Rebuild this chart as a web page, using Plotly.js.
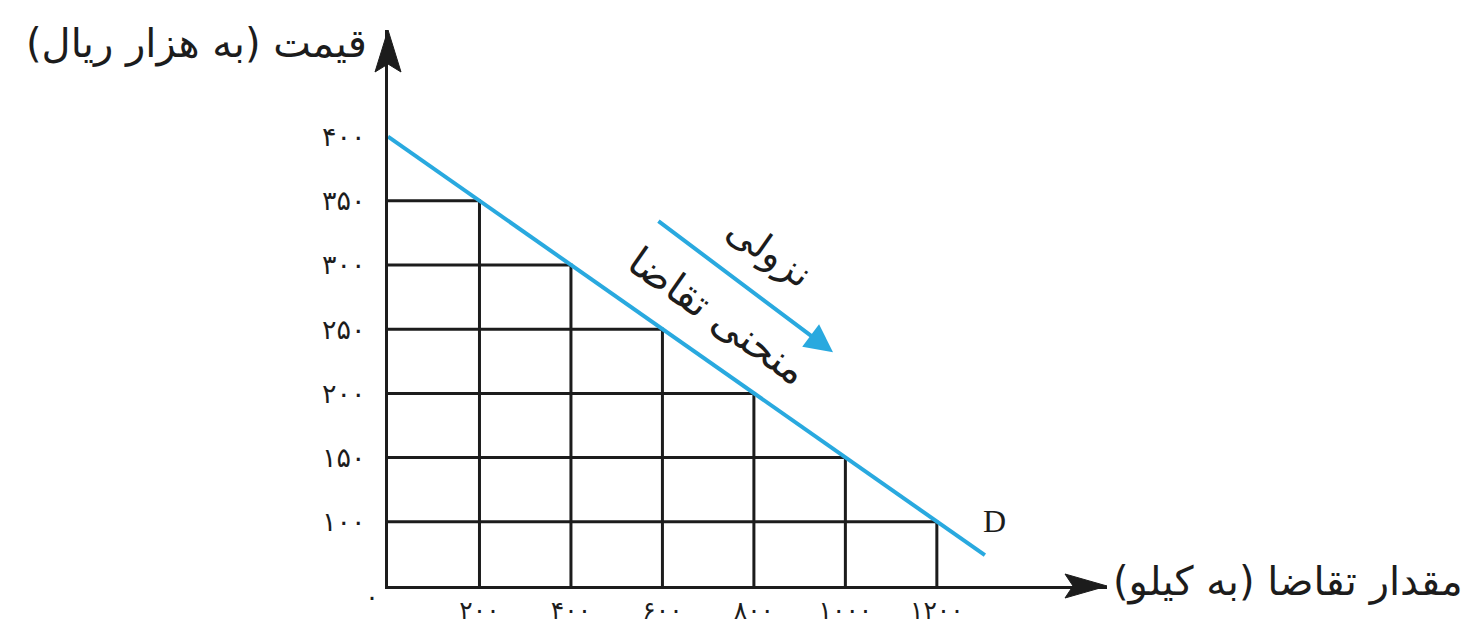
<!DOCTYPE html>
<html>
<head>
<meta charset="utf-8">
<script src="https://cdn.plot.ly/plotly-3.0.1.min.js"></script>
<style>
  html, body { margin: 0; padding: 0; background: #fff; overflow: hidden; }
  #chart { width: 1466px; height: 633px; }
</style>
</head>
<body>
<div id="chart"></div>
<script>
// demand schedule (quantity in kg, price in thousand rial)
var qSteps = [200, 400, 600, 800, 1000, 1200];
var pSteps = [350, 300, 250, 200, 150, 100];

// demand curve D (starts at the price axis, runs a bit past 1200)
var qLine = [0, 1305];
var pLine = [400, 74];

var xTickText = ['۲۰۰', '۴۰۰', '۶۰۰', '۸۰۰', '۱۰۰۰', '۱۲۰۰'];
var yTicks = [100, 150, 200, 250, 300, 350, 400];
var yTickText = ['۱۰۰', '۱۵۰', '۲۰۰', '۲۵۰', '۳۰۰', '۳۵۰', '۴۰۰'];

var yBase = 50;     // price axis starts here (drawn as the origin)
var xMax = 1572;    // axes run to the arrow tips
var yMax = 483;

var blue = '#29a9df';
var ink = '#1c1c1c';
var fa = '"DejaVu Sans", sans-serif';
var rlm = '\u200F';

// L-shaped guide lines from each point back to both axes
var gx = [], gy = [];
for (var i = 0; i < qSteps.length; i++) {
  gx.push(qSteps[i], qSteps[i], 0, null);
  gy.push(yBase, pSteps[i], pSteps[i], null);
}

var gridTrace = {
  x: gx,
  y: gy,
  type: 'scatter',
  mode: 'lines',
  line: { color: ink, width: 3 },
  hoverinfo: 'skip',
  cliponaxis: false
};

var demandTrace = {
  x: qLine,
  y: pLine,
  type: 'scatter',
  mode: 'lines',
  line: { color: blue, width: 4 },
  hoverinfo: 'skip'
};

var axisStyle = {
  showgrid: false,
  zeroline: false,
  showline: true,
  linecolor: ink,
  linewidth: 3,
  tickmode: 'array',
  ticks: ''
};

var layout = {
  width: 1466,
  height: 633,
  margin: { l: 388, r: 359, t: 30, b: 47 },
  paper_bgcolor: '#fff',
  plot_bgcolor: '#fff',
  showlegend: false,
  font: { family: fa, color: ink },
  xaxis: Object.assign({}, axisStyle, {
    range: [0, xMax],
    tickvals: qSteps,
    ticktext: xTickText,
    ticklabelstandoff: 0,
    tickfont: { size: 25, family: fa, color: ink }
  }),
  yaxis: Object.assign({}, axisStyle, {
    range: [yBase, yMax],
    tickvals: yTicks,
    ticktext: yTickText,
    ticklabelstandoff: 14,
    tickfont: { size: 27, family: fa, color: ink }
  }),
  shapes: [
    // arrow heads at the ends of the axes
    { type: 'path', xref: 'paper', yref: 'paper', xsizemode: 'pixel', ysizemode: 'pixel',
      xanchor: 1, yanchor: 0, path: 'M0,0 L-42,12 L-34,0 L-42,-12 Z',
      fillcolor: ink, line: { color: ink, width: 1 } },
    { type: 'path', xref: 'paper', yref: 'paper', xsizemode: 'pixel', ysizemode: 'pixel',
      xanchor: 0, yanchor: 1, path: 'M0,0 L-13,-42 L0,-34 L13,-42 Z',
      fillcolor: ink, line: { color: ink, width: 1 } }
  ],
  annotations: [
    // direction arrow along the curve
    { x: 973, y: 232, ax: 588, ay: 335, xref: 'x', yref: 'y', axref: 'x', ayref: 'y',
      text: '', showarrow: true, arrowhead: 2, arrowsize: 1.4, arrowwidth: 4, arrowcolor: blue },
    // labels
    { x: -0.026, y: 0.975, xref: 'paper', yref: 'paper', xanchor: 'right', yanchor: 'middle',
      text: rlm + 'قیمت (به هزار ریال)' + rlm, showarrow: false,
      font: { size: 40, family: fa, color: ink } },
    { x: 1.005, y: 0.008, xref: 'paper', yref: 'paper', xanchor: 'left', yanchor: 'middle',
      text: rlm + 'مقدار تقاضا (به کیلو)' + rlm, showarrow: false,
      font: { size: 40, family: fa, color: ink } },
    { x: 721, y: 260, xref: 'x', yref: 'y', textangle: 35,
      text: 'منحنی تقاضا', showarrow: false,
      font: { size: 40, family: fa, color: ink } },
    { x: 835, y: 310, xref: 'x', yref: 'y', textangle: 35,
      text: 'نزولی', showarrow: false,
      font: { size: 38, family: fa, color: ink } },
    { x: 1327, y: 101, xref: 'x', yref: 'y',
      text: 'D', showarrow: false,
      font: { size: 32, family: '"Liberation Serif", serif', color: ink } },
    { x: -0.035, y: -0.05, xref: 'paper', yref: 'paper',
      text: '۰', showarrow: false,
      font: { size: 26, family: fa, color: ink } }
  ]
};

Plotly.newPlot('chart', [gridTrace, demandTrace], layout, { staticPlot: true });
</script>
</body>
</html>
